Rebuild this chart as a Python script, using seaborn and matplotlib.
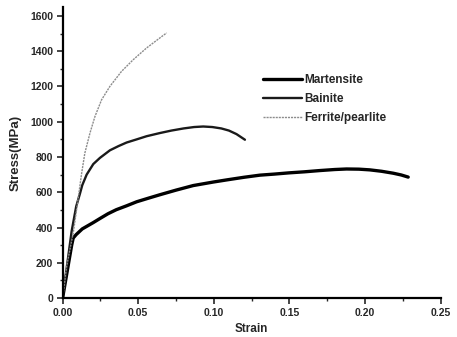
import matplotlib
matplotlib.use("Agg")
import matplotlib.pyplot as plt
from matplotlib.ticker import MultipleLocator, FormatStrFormatter
import seaborn as sns
import pandas as pd

martensite_strain = [0.0, 0.003, 0.0060, 0.0070, 0.0090, 0.0130, 0.0203, 0.0247, 0.0300, 0.0355,
                     0.0423, 0.049, 0.0570, 0.0644, 0.0750, 0.0864, 0.0997, 0.1085, 0.1200,
                     0.1305, 0.1400, 0.1497, 0.160, 0.170, 0.180, 0.1878, 0.1960, 0.2032,
                     0.2110, 0.2187, 0.2240, 0.2286]
martensite_stress = [0, 150, 300, 340, 360, 392, 428, 451, 478, 501,
                     523, 546, 567, 586, 612, 638, 658, 670, 685,
                     697, 703, 710, 716, 723, 729, 732, 731, 727,
                     719, 708, 698, 686]

bainite_strain = [0.0, 0.003, 0.006, 0.009, 0.0114, 0.0130, 0.0159, 0.0203, 0.0247, 0.0313,
                  0.0370, 0.0423, 0.0490, 0.0556, 0.0644, 0.0720, 0.0800, 0.0870, 0.0930,
                  0.0990, 0.1050, 0.1100, 0.1150, 0.1206]
bainite_stress = [0, 190, 380, 520, 590, 640, 700, 760, 795, 838,
                  862, 882, 900, 918, 936, 950, 962, 970, 973,
                  970, 962, 950, 930, 898]

ferrite_strain = [0.0, 0.0026, 0.0048, 0.0070, 0.0086, 0.0103, 0.0126, 0.0147, 0.0181, 0.0214,
                  0.0258, 0.0313, 0.039, 0.0467, 0.0556, 0.0644, 0.0688]
ferrite_stress = [0, 178, 273, 368, 462, 566, 708, 822, 936, 1030,
                  1125, 1201, 1286, 1352, 1419, 1476, 1504]

names = ["Martensite", "Bainite", "Ferrite/pearlite"]

df = pd.concat([
    pd.DataFrame({"Strain": martensite_strain, "Stress": martensite_stress, "Phase": names[0]}),
    pd.DataFrame({"Strain": bainite_strain, "Stress": bainite_stress, "Phase": names[1]}),
    pd.DataFrame({"Strain": ferrite_strain, "Stress": ferrite_stress, "Phase": names[2]}),
])

sns.set_style("ticks")
plt.rcParams['font.family'] = ['Liberation Sans', 'DejaVu Sans']
plt.rcParams['font.weight'] = 'bold'

fig = plt.figure(figsize=(4.57, 3.37), dpi=100)
ax = fig.add_axes([0.137, 0.1157, 0.827, 0.863])

palette = {names[0]: "#000000", names[1]: "#1a1a1a", names[2]: "#8c8c8c"}
sizes = {names[0]: 2.4, names[1]: 1.7, names[2]: 1.0}
dashes = {names[0]: "", names[1]: "", names[2]: (1.5, 0.7)}
sns.lineplot(data=df, x="Strain", y="Stress", hue="Phase", size="Phase", style="Phase",
             sizes=sizes, palette=palette, dashes=dashes, sort=False, estimator=None, ax=ax)

ax.set_xlim(0, 0.25)
ax.set_ylim(0, 1650)
ax.xaxis.set_major_locator(MultipleLocator(0.05))
ax.xaxis.set_minor_locator(MultipleLocator(0.025))
ax.yaxis.set_major_locator(MultipleLocator(200))
ax.yaxis.set_minor_locator(MultipleLocator(100))
ax.xaxis.set_major_formatter(FormatStrFormatter("%.2f"))
ax.tick_params(which="major", length=4, width=1.2, labelsize=7.5, direction="out", pad=3)
ax.tick_params(which="minor", length=2, width=1.0, direction="out")
for lab in ax.get_xticklabels() + ax.get_yticklabels():
    lab.set_fontweight("bold")

sns.despine(ax=ax)
for s in ["left", "bottom"]:
    ax.spines[s].set_linewidth(1.6)
    ax.spines[s].set_color("black")

ax.set_xlabel("Strain", fontsize=8.5, fontweight="bold", labelpad=4)
ax.set_ylabel("Stress(MPa)", fontsize=9.5, fontweight="bold", labelpad=6)

leg = ax.legend(loc="upper left", bbox_to_anchor=(0.53, 0.77), frameon=False,
                fontsize=8.5, handlelength=3.3, handletextpad=0.2, labelspacing=0.6,
                borderaxespad=0, borderpad=0)
for t in leg.get_texts():
    t.set_fontweight("bold")

fig.savefig("out.png", dpi=100)
